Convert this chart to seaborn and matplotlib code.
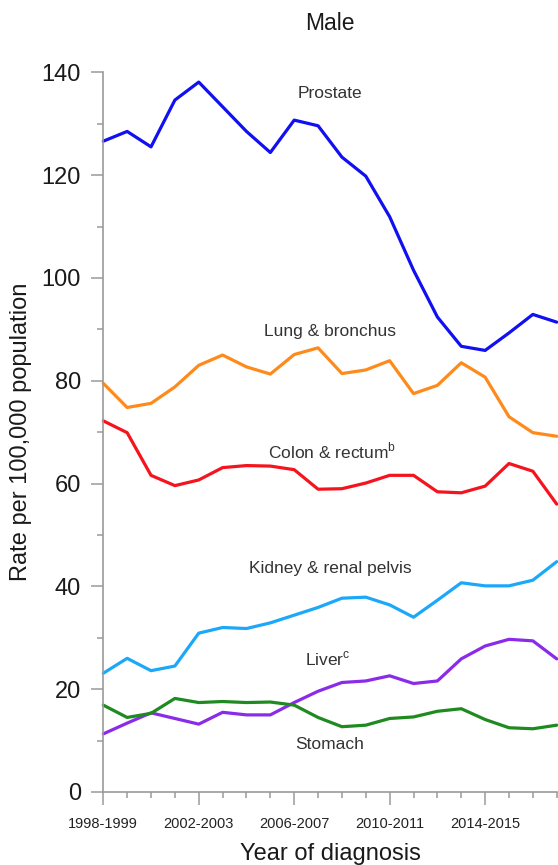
import matplotlib
matplotlib.use("Agg")
import matplotlib.pyplot as plt
from matplotlib.ticker import MultipleLocator, FixedLocator
import seaborn as sns
import pandas as pd

# Data (rate per 100,000)
periods = ["1998-1999", "1999-2000", "2000-2001", "2001-2002", "2002-2003",
           "2003-2004", "2004-2005", "2005-2006", "2006-2007", "2007-2008",
           "2008-2009", "2009-2010", "2010-2011", "2011-2012", "2012-2013",
           "2013-2014", "2014-2015", "2015-2016", "2016-2017", "2017-2018"]

prostate = [126.6, 128.5, 125.5, 134.6, 138.1, 133.3, 128.5, 124.4, 130.7, 129.6,
            123.5, 119.8, 111.9, 101.5, 92.4, 86.7, 85.9, 89.3, 92.9, 91.4]
lung = [79.5, 74.8, 75.6, 78.8, 83.0, 85.0, 82.7, 81.3, 85.1, 86.4,
        81.4, 82.1, 83.9, 77.5, 79.1, 83.5, 80.7, 73.0, 69.9, 69.2]
colon = [72.2, 69.9, 61.6, 59.6, 60.7, 63.1, 63.5, 63.4, 62.7, 58.9,
         59.0, 60.1, 61.6, 61.6, 58.4, 58.2, 59.5, 63.9, 62.4, 56.0]
kidney = [23.1, 26.0, 23.6, 24.5, 30.9, 32.0, 31.8, 32.9, 34.4, 35.9,
          37.7, 37.9, 36.4, 34.0, 37.3, 40.7, 40.1, 40.1, 41.2, 44.8]
liver = [11.3, 13.4, 15.4, 14.3, 13.2, 15.5, 15.0, 15.0, 17.4, 19.6,
         21.3, 21.6, 22.6, 21.1, 21.6, 25.9, 28.4, 29.7, 29.4, 25.9]
stomach = [16.9, 14.5, 15.3, 18.2, 17.4, 17.6, 17.4, 17.5, 16.9, 14.5,
           12.7, 13.0, 14.3, 14.6, 15.7, 16.2, 14.1, 12.5, 12.3, 13.0]

sites = ["Prostate", "Lung & bronchus", "Colon & rectum", "Kidney & renal pelvis",
         "Liver", "Stomach"]
series = [prostate, lung, colon, kidney, liver, stomach]
colors = ["#1010F0", "#FF8A1C", "#F5141E", "#1CA8FA", "#8A2BEA", "#1F8A1F"]

# label text and where it sits (x index, rate)
label_texts = ["Prostate", "Lung & bronchus", "Colon & rectum$^{\\rm b}$",
               "Kidney & renal pelvis", "Liver$^{\\rm c}$", "Stomach"]
label_x = [9.5, 9.5, 9.6, 9.5, 9.4, 9.5]
label_y = [135.9, 89.6, 66.3, 43.4, 25.9, 9.3]

# long-form table for seaborn
rows = []
for site, vals in zip(sites, series):
    for i, v in enumerate(vals):
        rows.append({"idx": i, "Site": site, "Rate": v})
df = pd.DataFrame(rows)

sns.set_theme(style="ticks")
plt.rcParams["font.family"] = ["Liberation Sans", "DejaVu Sans"]
plt.rcParams["mathtext.fontset"] = "custom"
plt.rcParams["mathtext.rm"] = "Liberation Sans"

fig = plt.figure(figsize=(5.58, 8.65), dpi=100)
ax = fig.add_axes([0.1851, 0.0844, 0.8126, 0.8320])

sns.lineplot(data=df, x="idx", y="Rate", hue="Site", hue_order=sites,
             palette=dict(zip(sites, colors)), linewidth=2.3, legend=False,
             ax=ax, clip_on=False)

for txt, lx, ly in zip(label_texts, label_x, label_y):
    ax.text(lx, ly, txt, ha="center", va="center", fontsize=12.5, color="#333333")

ax.set_xlim(0, len(periods) - 1)
ax.set_ylim(0, 140)

ax.xaxis.set_major_locator(FixedLocator(range(0, 17, 4)))
ax.set_xticklabels(periods[0:17:4])
ax.xaxis.set_minor_locator(MultipleLocator(1))
ax.yaxis.set_major_locator(MultipleLocator(20))
ax.yaxis.set_minor_locator(MultipleLocator(10))

spine_col = "#9a9a9a"
for side in ["top", "right"]:
    ax.spines[side].set_visible(False)
for side in ["left", "bottom"]:
    ax.spines[side].set_color(spine_col)
    ax.spines[side].set_linewidth(1.2)

ax.tick_params(axis="y", which="major", length=9, width=1.1, color=spine_col,
               labelsize=17, pad=7, labelcolor="#1a1a1a")
ax.tick_params(axis="y", which="minor", length=4, width=1.1, color=spine_col)
ax.tick_params(axis="x", which="major", length=9, width=1.1, color=spine_col,
               labelsize=10.5, pad=9, labelcolor="#222222")
ax.tick_params(axis="x", which="minor", length=4.5, width=1.1, color=spine_col)

ax.set_xlabel("Year of diagnosis", fontsize=17, color="#1a1a1a")
ax.set_ylabel("Rate per 100,000 population", fontsize=17, color="#1a1a1a")
ax.xaxis.set_label_coords(0.5, -0.071)
ax.yaxis.set_label_coords(-0.157, 0.5)

fig.text(0.5914, 1 - 23 / 865, "Male", ha="center", va="center",
         fontsize=16.5, color="#1a1a1a")

fig.savefig("out.png", dpi=100)
